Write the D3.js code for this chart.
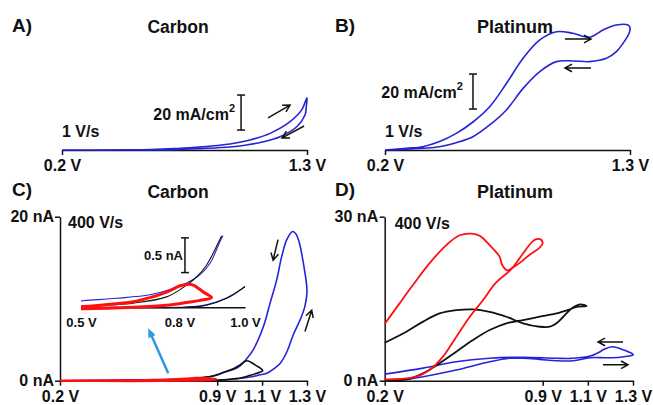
<!DOCTYPE html>
<html>
<head>
<meta charset="utf-8">
<script src="https://cdn.jsdelivr.net/npm/d3@7"></script>
<style>
body { margin: 0; background: #fff; }
text { font-family: "Liberation Sans", Arial, sans-serif; font-weight: bold; fill: #111; }
</style>
</head>
<body>
<svg id="chart" width="653" height="405"></svg>
<script>
// ---- A) carbon, 1 V/s  [potential V, current mA/cm2]
const aFwd = [[0.2,0],[0.5,0.1],[0.6,0.3],[0.7,0.8],[0.8,1.6],[0.9,2.6],[0.954,3.4],[1.044,5.7],[1.134,9.5],[1.224,16.2],[1.276,22.9],[1.3,29.9]];
const aRev = [[1.297,25],[1.291,20],[1.254,13.3],[1.179,7.6],[1.104,4.7],[1.029,2.9],[0.954,1.7],[0.82,0.8],[0.7,0.2],[0.5,0],[0.2,0]];

// ---- B) platinum, 1 V/s
const bFwd = [[0.2,0],[0.296,1],[0.37,1.9],[0.445,4.8],[0.52,9.5],[0.595,16],[0.67,24.7],[0.745,38],[0.82,52.4],[0.895,62.9],[0.97,67.6],[1.044,66.7],[1.119,64.4],[1.179,68.6],[1.239,71.4],[1.291,71.4],[1.3,70]];
const bRev = [[1.296,66.7],[1.269,61],[1.239,56.2],[1.194,52.4],[1.119,50.5],[1.044,50.9],[0.97,50.5],[0.895,44.8],[0.82,35.2],[0.745,22.9],[0.67,14.3],[0.595,7.6],[0.52,4.2],[0.445,1.9],[0.37,1],[0.296,0.4],[0.2,0]];

// ---- C) carbon, 400 V/s  [V, nA]
const cBlueFwd = [[0.2,0],[0.5,0],[0.7,0],[0.802,0],[0.863,0.02],[0.914,0.08],[0.964,0.18],[1.0,0.3],[1.046,0.45],[1.08,0.65],[1.121,0.9],[1.15,1.4],[1.18,2.1],[1.21,3.5],[1.239,5.6],[1.269,7.4],[1.29,9.0],[1.3,10.9]];
const cBlueRev = [[1.284,14.3],[1.266,16.8],[1.251,17.9],[1.236,18.2],[1.21,17.2],[1.187,15.1],[1.165,12.3],[1.135,9.4],[1.106,6.6],[1.061,3.8],[1.032,2.7],[1.002,1.8],[0.972,1.35],[0.929,1.0],[0.893,0.63],[0.863,0.47],[0.822,0.35],[0.781,0.27],[0.71,0.18],[0.609,0.13],[0.507,0.095],[0.4,0.05],[0.2,0]];
const cBlackFwd = [[0.2,0],[0.507,0],[0.822,0],[0.883,0.03],[0.944,0.13],[0.985,0.25],[1.0,0.3],[1.04,0.6],[1.075,0.9],[1.103,1.22]];
const cBlackRev = [[1.07,1.9],[1.032,2.44],[1.0,1.9],[0.972,1.45],[0.929,1.03],[0.883,0.61],[0.853,0.44],[0.822,0.32],[0.761,0.15],[0.659,0.06],[0.507,0.02],[0.2,0]];
const cRedFwd = [[0.2,0],[0.507,-0.02],[0.659,0],[0.761,0.03],[0.822,0.07],[0.863,0.1],[0.898,0.14]];
const cRedRev = [[0.873,0.22],[0.842,0.32],[0.822,0.33],[0.802,0.31],[0.761,0.22],[0.71,0.14],[0.659,0.08],[0.558,0.03],[0.507,0.01],[0.2,0]];

// ---- D) platinum, 400 V/s
const dBlueFwd = [[0.2,0],[0.296,0.25],[0.37,0.73],[0.517,1.95],[0.665,3.47],[0.754,4.1],[0.813,4.1],[0.887,3.9],[0.961,3.66],[1.035,3.66],[1.11,4.2],[1.183,4.2],[1.243,4.3],[1.3,4.7]];
const dBlueRev = [[1.3,4.8],[1.26,5.6],[1.21,6.2],[1.17,5.7],[1.154,5.3],[1.11,4.5],[1.035,4.1],[0.961,4.1],[0.813,4.3],[0.665,4.1],[0.517,3.47],[0.37,2.3],[0.2,1.2]];
const dBlackFwd = [[0.2,0],[0.296,0.25],[0.37,1.35],[0.443,3.18],[0.517,5.3],[0.591,7.44],[0.665,9.27],[0.739,10.5],[0.813,11.1],[0.887,11.7],[0.961,12.3],[1.02,13.05],[1.05,13.5],[1.094,13.65]];
const dBlackRev = [[1.065,13.97],[1.028,13.2],[0.991,11.7],[0.961,10.5],[0.932,9.87],[0.887,9.87],[0.813,10.5],[0.739,11.7],[0.665,12.6],[0.591,13.05],[0.517,12.9],[0.443,12.3],[0.37,10.8],[0.296,8.96],[0.2,6.95]];
const dRedFwd = [[0.2,0.25],[0.266,0.31],[0.34,0.73],[0.399,1.95],[0.458,4.4],[0.517,8.0],[0.577,11.7],[0.636,14.75],[0.69,17.8],[0.763,20.5],[0.808,23.0],[0.844,25.0],[0.866,25.8],[0.888,25.9],[0.9,25.2]];
const dRedRev = [[0.888,24.4],[0.844,23.1],[0.8,21.6],[0.764,20.6],[0.742,20.2],[0.72,21.2],[0.709,22.7],[0.665,24.8],[0.621,26.5],[0.584,26.9],[0.532,26.6],[0.473,24.8],[0.399,21.5],[0.325,17.5],[0.266,14.15],[0.2,10.4]];

// ---- ticks
const abTicks = [0.2, 1.3];
const cdTicks = [0.2, 0.9, 1.1, 1.3];
const insetTicks = [0.5, 0.8, 1.0];
const cYTicks = [0, 20];
const dYTicks = [0, 30];

// ---- annotations, in data units
const aArrows = [[[1.125,18.3],[1.224,25.7]], [[1.287,13.7],[1.188,6.9]]];
const bArrows = [[[1.008,63.4],[1.125,63.4]], [[1.125,46.9],[1.008,46.9]]];
const cArrows = [[[1.171,17.2],[1.149,14.7]], [[1.291,6.0],[1.321,8.6]]];
const dArrows = [[[1.256,7.1],[1.145,7.1]], [[1.167,2.9],[1.278,2.9]]];
const cPointer = [[0.682,0.9],[0.593,6.4]];

const blue = "#2424d8", red = "#ff1010", black = "#111";

const svg = d3.select("#chart");

// scales
const xA = d3.scaleLinear().domain([0.2, 1.3]).range([62, 307]);
const xB = d3.scaleLinear().domain([0.2, 1.3]).range([385, 630]);
const yAB = d3.scaleLinear().domain([0, 80]).range([150, 10]);
const xC = d3.scaleLinear().domain([0.2, 1.3]).range([60, 307]);
const yC = d3.scaleLinear().domain([0, 20]).range([380.7, 216.7]);
const xD = d3.scaleLinear().domain([0.2, 1.3]).range([384.7, 633]);
const yD = d3.scaleLinear().domain([0, 30]).range([380.7, 216.7]);
const xIn = d3.scaleLinear().domain([0.5, 1.0]).range([81, 245]);
const yIn = d3.scaleLinear().domain([0, 1.03]).range([307.3, 235.8]);

const fmtV = d => d3.format(".1f")(d) + " V";

function drawLoop(g, fwd, rev, x, y, colour, w) {
    g.append("path")
        .datum(fwd.concat(rev))
        .attr("fill", "none")
        .attr("stroke", colour)
        .attr("stroke-width", w)
        .attr("stroke-linejoin", "round")
        .attr("d", d3.line()
            .curve(d3.curveCatmullRom.alpha(0.5))
            .x(d => x(d[0]))
            .y(d => y(d[1])));
}

function label(x, y, str, size, anchor) {
    return svg.append("text")
        .attr("x", x).attr("y", y)
        .attr("font-size", size)
        .attr("text-anchor", anchor || "start")
        .attr("dominant-baseline", "central")
        .text(str);
}

function arrow(pts, x, y) {
    const x1 = x(pts[0][0]), y1 = y(pts[0][1]), x2 = x(pts[1][0]), y2 = y(pts[1][1]);
    const ang = Math.atan2(y2 - y1, x2 - x1), L = 8, a = 0.5;
    svg.append("path")
        .attr("d", "M" + x1 + "," + y1 + "L" + x2 + "," + y2 +
            "M" + (x2 - L * Math.cos(ang - a)) + "," + (y2 - L * Math.sin(ang - a)) +
            "L" + x2 + "," + y2 +
            "L" + (x2 - L * Math.cos(ang + a)) + "," + (y2 - L * Math.sin(ang + a)))
        .attr("fill", "none").attr("stroke", black).attr("stroke-width", 1.5);
}

function scaleBar(xv, from, to, x, y) {
    const g = svg.append("g").attr("stroke", black).attr("stroke-width", 1.5);
    g.append("line").attr("x1", x(xv)).attr("x2", x(xv)).attr("y1", y(from)).attr("y2", y(to));
    [from, to].forEach(v => g.append("line")
        .attr("x1", x(xv) - 4).attr("x2", x(xv) + 4).attr("y1", y(v)).attr("y2", y(v)));
}

function styleAxis(g, size) {
    g.attr("color", black).attr("font-size", size).attr("font-family", null);
    g.selectAll("path, line").attr("stroke-width", 1.5);
}

// ---- panel A
svg.append("g").attr("transform", "translate(0," + yAB(0) + ")")
    .call(d3.axisBottom(xA).tickValues(abTicks).tickSize(5).tickSizeOuter(0).tickPadding(5).tickFormat(fmtV))
    .call(g => styleAxis(g, 16));
drawLoop(svg, aFwd, aRev, xA, yAB, blue, 1.6);
aArrows.forEach(p => arrow(p, xA, yAB));
scaleBar(1.004, 11.4, 31.4, xA, yAB);
label(xA(0.977), yAB(20.5), "20 mA/cm", 16, "end").append("tspan").attr("dy", -6).attr("font-size", 11).text("2");
label(xA(0.2), yAB(10.3), "1 V/s", 16);
label(12, 25, "A)", 19);
label(178, 27, "Carbon", 17.5, "middle");

// ---- panel B
svg.append("g").attr("transform", "translate(0," + yAB(0) + ")")
    .call(d3.axisBottom(xB).tickValues(abTicks).tickSize(5).tickSizeOuter(0).tickPadding(5).tickFormat(fmtV))
    .call(g => styleAxis(g, 16));
drawLoop(svg, bFwd, bRev, xB, yAB, blue, 1.6);
bArrows.forEach(p => arrow(p, xB, yAB));
scaleBar(0.595, 23.4, 43.4, xB, yAB);
label(xB(0.55), yAB(33), "20 mA/cm", 16, "end").append("tspan").attr("dy", -6).attr("font-size", 11).text("2");
label(xB(0.2), yAB(10.3), "1 V/s", 16);
label(335, 25, "B)", 19);
label(515, 27, "Platinum", 18, "middle");

// ---- panel C
svg.append("g").attr("transform", "translate(0," + yC(0) + ")")
    .call(d3.axisBottom(xC).tickValues(cdTicks).tickSize(5).tickSizeOuter(0).tickPadding(5).tickFormat(fmtV))
    .call(g => styleAxis(g, 16));
svg.append("g").attr("transform", "translate(" + xC(0.2) + ",0)")
    .call(d3.axisLeft(yC).tickValues(cYTicks).tickSize(5).tickSizeOuter(0).tickPadding(1).tickFormat(d => d + " nA"))
    .call(g => styleAxis(g, 16));
drawLoop(svg, cBlueFwd, cBlueRev, xC, yC, blue, 1.6);
drawLoop(svg, cBlackFwd, cBlackRev, xC, yC, black, 1.6);
drawLoop(svg, cRedFwd, cRedRev, xC, yC, red, 2.6);
cArrows.forEach(p => arrow(p, xC, yC));
label(12, 189, "C)", 19);
label(178, 192, "Carbon", 17.5, "middle");
label(xC(0.2) + 8, 222, "400 V/s", 16);

// inset of C
svg.append("clipPath").attr("id", "insetClip").append("rect")
    .attr("x", xIn(0.5)).attr("y", yIn(1.03))
    .attr("width", xIn(1.0) - xIn(0.5)).attr("height", yIn(-0.15) - yIn(1.03));
svg.append("g").attr("transform", "translate(0," + yIn(0) + ")")
    .call(d3.axisBottom(xIn).tickValues(insetTicks).tickSize(0).tickPadding(10).tickFormat(fmtV))
    .call(g => styleAxis(g, 13));
const inset = svg.append("g").attr("clip-path", "url(#insetClip)");
drawLoop(inset, cBlueFwd, cBlueRev, xIn, yIn, blue, 1.1);
drawLoop(inset, cBlackFwd, cBlackRev, xIn, yIn, black, 1.1);
drawLoop(inset, cRedFwd, cRedRev, xIn, yIn, red, 3);
scaleBar(0.817, 0.5, 1.0, xIn, yIn);
label(xIn(0.811), yIn(0.74), "0.5 nA", 13, "end");

// blue pointer from the main trace to the inset
{
    const x1 = xC(cPointer[0][0]), y1 = yC(cPointer[0][1]), x2 = xC(cPointer[1][0]), y2 = yC(cPointer[1][1]);
    const ang = Math.atan2(y2 - y1, x2 - x1), L = 10, a = 0.4;
    svg.append("line").attr("x1", x1).attr("y1", y1)
        .attr("x2", x2 - 6 * Math.cos(ang)).attr("y2", y2 - 6 * Math.sin(ang))
        .attr("stroke", "#2a9be0").attr("stroke-width", 2.5);
    svg.append("path")
        .attr("d", "M" + x2 + "," + y2 +
            "L" + (x2 - L * Math.cos(ang - a)) + "," + (y2 - L * Math.sin(ang - a)) +
            "L" + (x2 - L * Math.cos(ang + a)) + "," + (y2 - L * Math.sin(ang + a)) + "Z")
        .attr("fill", "#2a9be0");
}

// ---- panel D
svg.append("g").attr("transform", "translate(0," + yD(0) + ")")
    .call(d3.axisBottom(xD).tickValues(cdTicks).tickSize(5).tickSizeOuter(0).tickPadding(5).tickFormat(fmtV))
    .call(g => styleAxis(g, 16));
svg.append("g").attr("transform", "translate(" + xD(0.2) + ",0)")
    .call(d3.axisLeft(yD).tickValues(dYTicks).tickSize(5).tickSizeOuter(0).tickPadding(1.5).tickFormat(d => d + " nA"))
    .call(g => styleAxis(g, 16));
drawLoop(svg, dBlueFwd, dBlueRev, xD, yD, blue, 1.6);
drawLoop(svg, dBlackFwd, dBlackRev, xD, yD, black, 1.8);
drawLoop(svg, dRedFwd, dRedRev, xD, yD, red, 1.8);
dArrows.forEach(p => arrow(p, xD, yD));
label(335, 189, "D)", 19);
label(515, 192, "Platinum", 18, "middle");
label(xD(0.2) + 10, 223, "400 V/s", 16);
</script>
</body>
</html>
